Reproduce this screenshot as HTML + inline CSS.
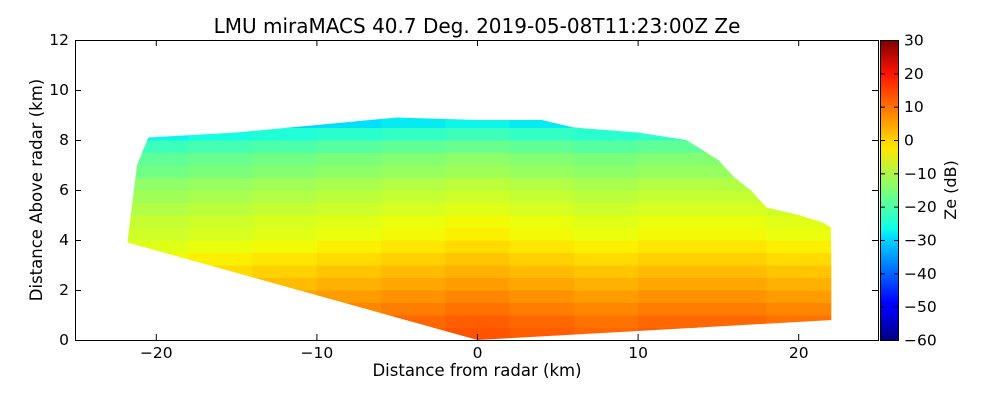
<!DOCTYPE html>
<html><head><meta charset="utf-8"><style>
body{margin:0;background:#fff;}
svg text{font-family:"DejaVu Sans","Liberation Sans",sans-serif;fill:#000;}
</style></head><body>
<svg id="chart" width="1000" height="400" xmlns="http://www.w3.org/2000/svg">
<defs>
<clipPath id="scanClip"><polygon id="scanPoly" points=""/></clipPath>
<linearGradient id="jetGrad" x1="0" y1="1" x2="0" y2="0">
<stop offset="0" stop-color="#00007f"/><stop offset="0.11" stop-color="#0000ff"/>
<stop offset="0.125" stop-color="#0000ff"/><stop offset="0.34" stop-color="#00d8ff"/>
<stop offset="0.375" stop-color="#10ffe6"/><stop offset="0.5" stop-color="#7cff79"/>
<stop offset="0.64" stop-color="#ffe600"/><stop offset="0.66" stop-color="#ffd800"/>
<stop offset="0.89" stop-color="#ff1300"/><stop offset="1" stop-color="#7f0000"/></linearGradient>
</defs>
<text x="477" y="33" font-size="20" text-anchor="middle">LMU miraMACS 40.7 Deg. 2019-05-08T11:23:00Z  Ze</text>
<g id="cells" clip-path="url(#scanClip)"></g>
<rect x="75.5" y="40.5" width="803" height="300" fill="none" stroke="#000" stroke-width="1"/>
<g id="xticks"></g>
<g id="yticks"></g>
<text x="477" y="376" font-size="16.5" text-anchor="middle">Distance from radar (km)</text>
<text transform="translate(42,190) rotate(-90)" font-size="16.5" text-anchor="middle">Distance Above radar  (km)</text>
<rect x="880.5" y="40.5" width="18" height="300" fill="url(#jetGrad)" stroke="#000" stroke-width="1"/>
<g id="cbticks"></g>
<text transform="translate(956,190) rotate(-90)" font-size="16" text-anchor="middle">Ze (dB)</text>
</svg>
<script>
const xTicks=[-20,-10,0,10,20];
const yTicks=[0,2,4,6,8,10,12];
const cbTicks=[30,20,10,0,-10,-20,-30,-40,-50,-60];
const rowHeights=[0,0.5,1,1.5,2,2.5,3,3.5,4,4.5,5,5.5,6,6.5,7,7.5,8,8.5];
const rowZe=[12,11,9,7,5,3,1,-1,-3,-4,-6,-8,-10,-13,-15,-19,-24,-29];
const colStarts=[-22,-18,-14,-10,-6,-2,2,6,10,14,18];
const colOffset=[-3,-2,-1,0,1,2,1,0,1,1,0];
const envX=[0,-21.8,-21.2,-20.5,-15,-10,-5,0,4,6,10,13,15,16,17,18,20,21.5,22,22.1,0];
const envY=[0,3.9,7.0,8.1,8.3,8.6,8.9,8.8,8.8,8.5,8.3,8.0,7.2,6.5,6.0,5.3,5.0,4.7,4.5,0.8,0];
const X=v=>477.5+v*16.06, Y=v=>340-v*25;
function interp(t,pts){for(let i=1;i<pts.length;i++){if(t<=pts[i][0]){const a=pts[i-1],b=pts[i];return a[1]+(b[1]-a[1])*(t-a[0])/(b[0]-a[0]);}}return pts[pts.length-1][1];}
function jet(v){const t=Math.max(0,Math.min(1,(v+60)/90));
 const r=interp(t,[[0,0],[0.35,0],[0.66,1],[0.89,1],[1,0.5]]);
 const g=interp(t,[[0,0],[0.125,0],[0.375,1],[0.64,1],[0.91,0],[1,0]]);
 const b=interp(t,[[0,0.5],[0.11,1],[0.34,1],[0.65,0],[1,0]]);
 return `rgb(${Math.round(r*255)},${Math.round(g*255)},${Math.round(b*255)})`;}
const NS="http://www.w3.org/2000/svg";
document.getElementById('scanPoly').setAttribute('points',envX.map((x,i)=>X(x)+','+Y(envY[i])).join(' '));
const cells=document.getElementById('cells');
rowHeights.forEach((h,i)=>{colStarts.forEach((c,j)=>{
 const r=document.createElementNS(NS,'rect');
 
 
 r.setAttribute('x',X(c));r.setAttribute('y',Y(h+0.5));
 r.setAttribute('width',X(c+4)-X(c)+0.5);r.setAttribute('height',Y(h)-Y(h+0.5)+0.5);
 r.setAttribute('fill',jet(rowZe[i]+colOffset[j]));cells.appendChild(r);});});
function tick(g,x1,y1,x2,y2){const l=document.createElementNS(NS,'line');
 l.setAttribute('x1',x1);l.setAttribute('y1',y1);l.setAttribute('x2',x2);l.setAttribute('y2',y2);
 l.setAttribute('stroke','#000');g.appendChild(l);}
function label(g,x,y,s,anchor,name){const t=document.createElementNS(NS,'text');
 
 
 t.setAttribute('x',x);t.setAttribute('y',y);t.setAttribute('font-size','15.5');t.setAttribute('text-anchor',anchor);
 t.textContent=s;g.appendChild(t);}
const fmt=v=>String(v).replace('-','\u2212');
const xg=document.getElementById('xticks');
xTicks.forEach(v=>{tick(xg,X(v),340,X(v),334);tick(xg,X(v),40,X(v),46);label(xg,X(v),358,fmt(v),'middle','x-tick-label');});
const yg=document.getElementById('yticks');
yTicks.forEach(v=>{tick(yg,75,Y(v)+0.5,81,Y(v)+0.5);tick(yg,878,Y(v)+0.5,872,Y(v)+0.5);label(yg,69,Y(v)+5,fmt(v),'end','y-tick-label');});
const cg=document.getElementById('cbticks');
cbTicks.forEach(v=>{const y=40.5+(30-v)/90*300;tick(cg,898,y,894,y);tick(cg,881,y,885,y);label(cg,904,y+5,fmt(v),'start','colorbar-tick-label');});
</script>
</body></html>
